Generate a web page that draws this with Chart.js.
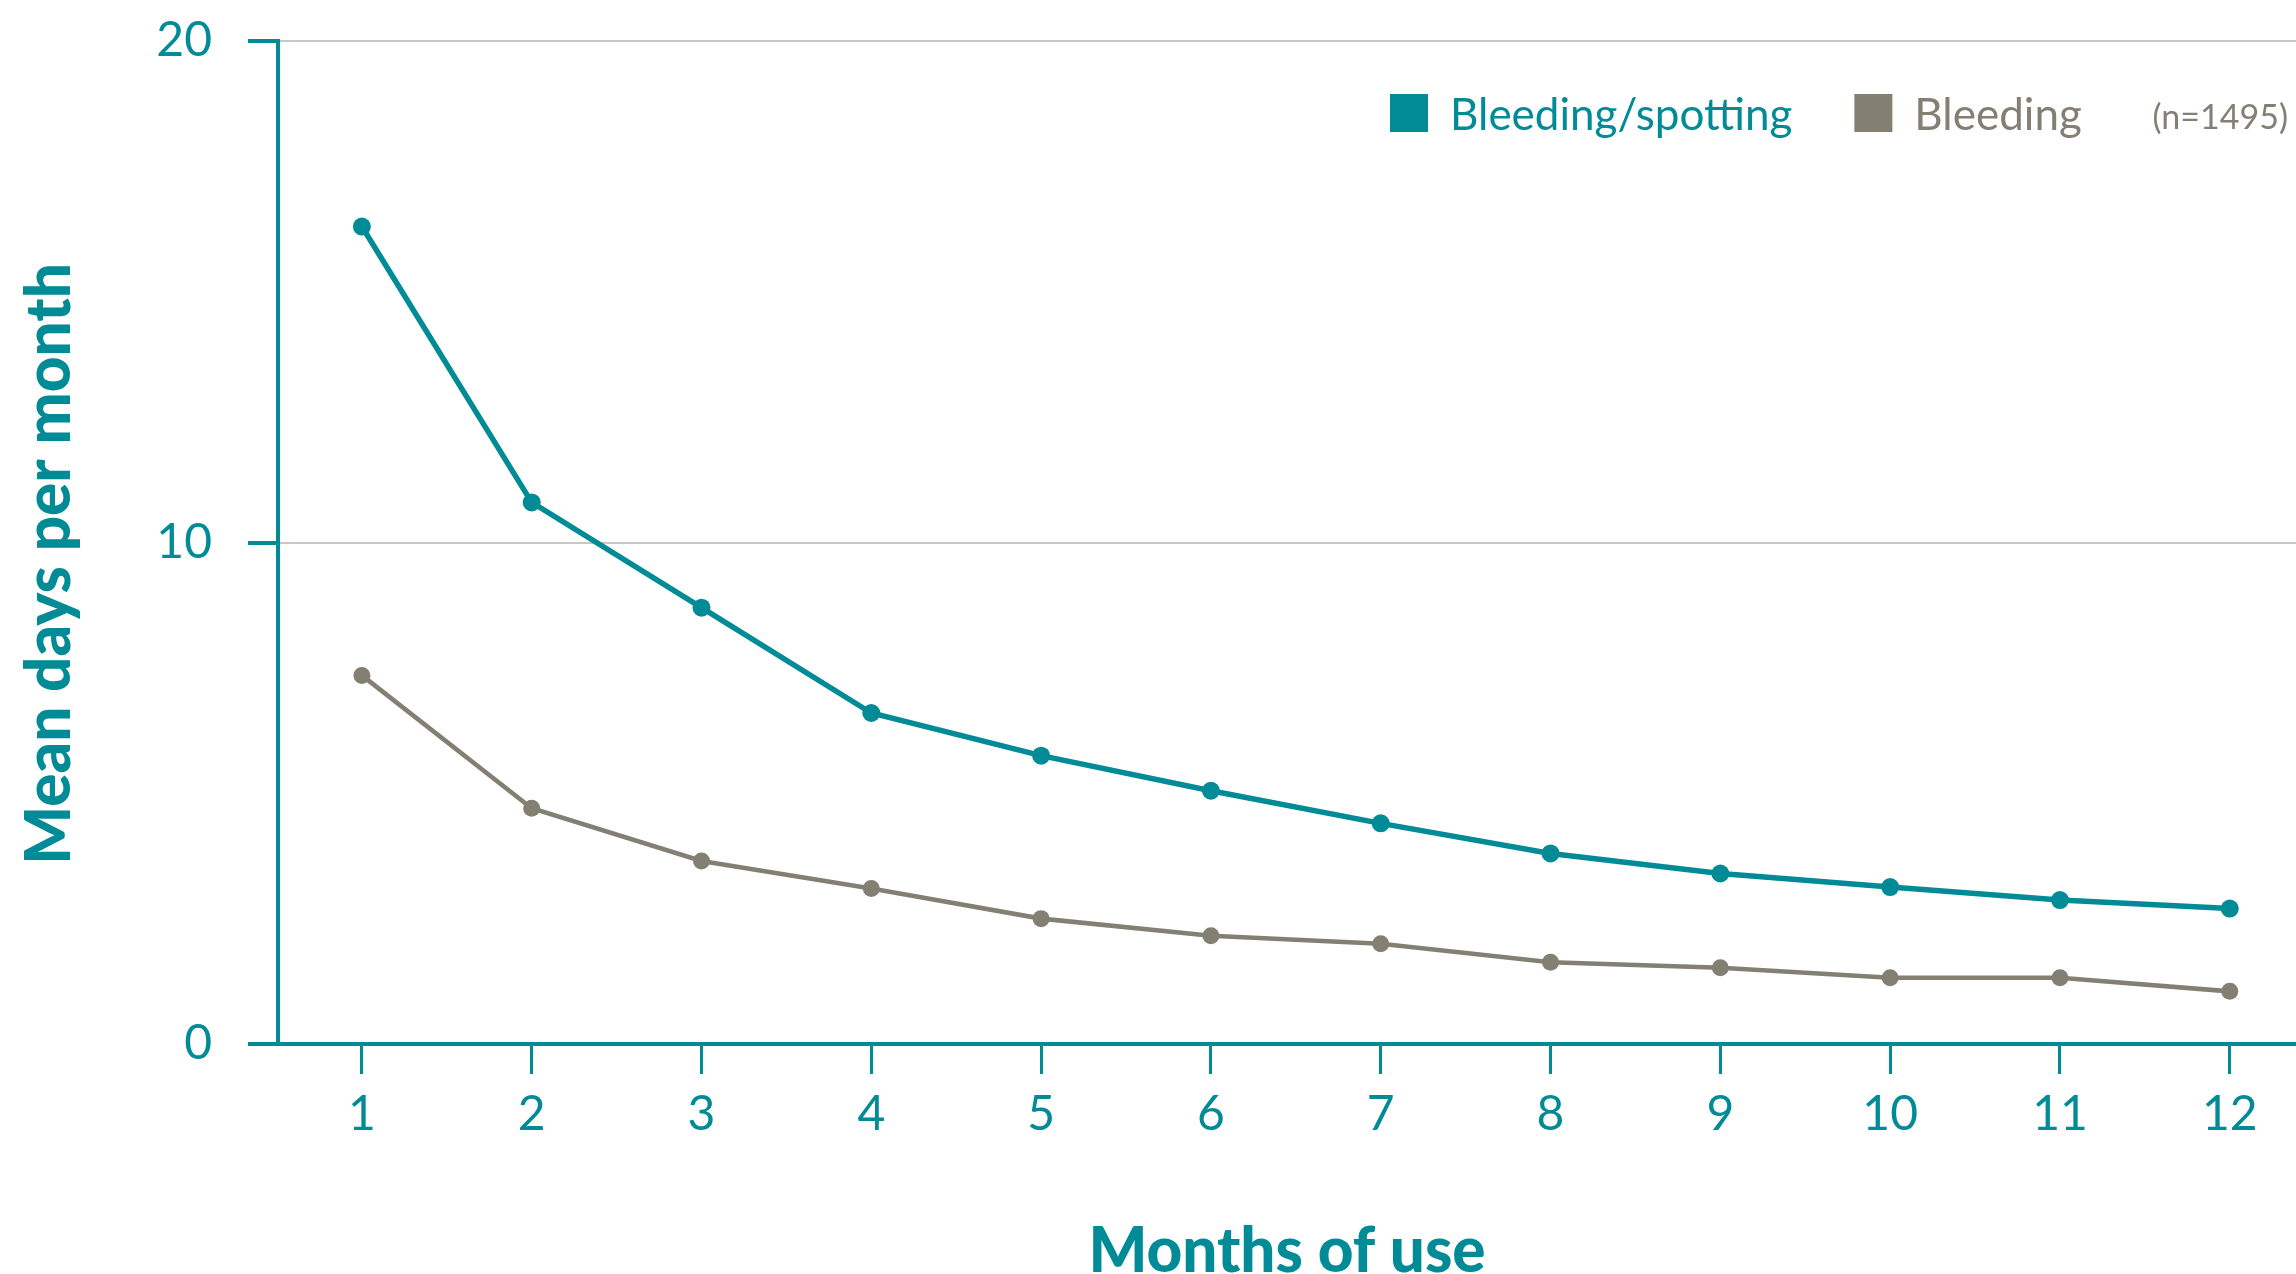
<!DOCTYPE html>
<html>
<head>
<meta charset="utf-8">
<script src="https://cdn.jsdelivr.net/npm/chart.js@4"></script>
<style>
    html, body { margin: 0; padding: 0; background: #ffffff; overflow: hidden; }
    #bleedingGraph { display: block; }
</style>
</head>
<body>
<canvas id="bleedingGraph" width="2296" height="1274"></canvas>
<script>
"use strict"

/******************************************************************************/
// data
/******************************************************************************/
const months = [1, 2, 3, 4, 5, 6, 7, 8, 9, 10, 11, 12]
const bleedingSpotting = [16.3, 10.8, 8.7, 6.6, 5.75, 5.05, 4.4, 3.8, 3.4, 3.13, 2.87, 2.7]
const bleeding = [7.35, 4.7, 3.65, 3.1, 2.5, 2.16, 2.0, 1.63, 1.52, 1.32, 1.32, 1.05]
const seriesNames = ['Bleeding/spotting', 'Bleeding']
const sampleNote = '(n=1495)'
const yTicks = [0, 10, 20]
const yTitle = 'Mean days per month'
const xTitle = 'Months of use'

const TEAL = '#008b96'
const GREY = '#837f72'
const GRID = '#c9c9c6'
const FONT = 'Lato, "Open Sans", sans-serif'

let toPoints = function(values) {
    return months.map((m, i) => ({ x: m, y: values[i] }))
}

// legend + rotated y title, placed like the original
let decorPlugin = {
    id: 'decor',
    afterDraw: function(chart) {
        let ctx = chart.ctx
        let x = 1390
        let y = 113
        ctx.save()
        ctx.textBaseline = 'middle'
        ctx.textAlign = 'left'
        chart.data.datasets.forEach(ds => {
            ctx.fillStyle = ds.borderColor
            ctx.fillRect(x, y - 19, 38, 38)
            x += 38 + 22
            ctx.font = '44px ' + FONT
            ctx.fillText(ds.label, x, y + 3)
            x += ctx.measureText(ds.label).width + 62
        })
        ctx.fillStyle = GREY
        ctx.font = '34px ' + FONT
        ctx.textAlign = 'right'
        ctx.fillText(sampleNote, 2288, y + 5)

        ctx.translate(50, 564)
        ctx.rotate(-Math.PI / 2)
        ctx.textAlign = 'center'
        ctx.fillStyle = TEAL
        ctx.font = '900 62px ' + FONT
        ctx.fillText(yTitle, 0, 0)
        ctx.restore()
    }
}

let drawGraph = function() {
    let ctx = document.getElementById('bleedingGraph').getContext('2d')
    return new Chart(ctx, {
        type: 'line',
        data: {
            datasets: [{
                label: seriesNames[0],
                data: toPoints(bleedingSpotting),
                borderColor: TEAL,
                backgroundColor: TEAL,
                borderWidth: 5.5,
                pointRadius: 9,
                pointBorderWidth: 0,
                tension: 0
            }, {
                label: seriesNames[1],
                data: toPoints(bleeding),
                borderColor: GREY,
                backgroundColor: GREY,
                borderWidth: 4.6,
                pointRadius: 8.5,
                pointBorderWidth: 0,
                tension: 0
            }]
        },
        options: {
            responsive: false,
            animation: false,
            layout: {
                autoPadding: false,
                padding: { top: 41, right: 0, left: 0, bottom: 0 }
            },
            plugins: {
                legend: { display: false },
                tooltip: { enabled: false }
            },
            scales: {
                x: {
                    type: 'linear',
                    min: 0.506,
                    max: 12.39,
                    afterFit: scale => {
                        scale.height = 230
                        scale.paddingLeft = 0
                        scale.paddingRight = 0
                    },
                    border: { color: TEAL, width: 4 },
                    grid: {
                        drawOnChartArea: false,
                        drawTicks: true,
                        tickLength: 30,
                        tickColor: TEAL,
                        tickWidth: 3
                    },
                    ticks: {
                        stepSize: 1,
                        includeBounds: false,
                        color: TEAL,
                        padding: 12,
                        font: { family: FONT, size: 48 },
                        callback: v => months.includes(v) ? String(v) : ''
                    },
                    title: {
                        display: true,
                        text: xTitle,
                        color: TEAL,
                        font: { family: FONT, size: 62, weight: '900', lineHeight: 0.6 },
                        padding: { top: 0, bottom: 3 }
                    }
                },
                y: {
                    min: 0,
                    max: 20,
                    afterFit: scale => {
                        scale.width = 278
                        scale.paddingTop = 0
                        scale.paddingBottom = 0
                    },
                    afterBuildTicks: scale => {
                        scale.ticks = yTicks.map(v => ({ value: v }))
                    },
                    border: { color: TEAL, width: 4 },
                    grid: {
                        color: c => (c.tick && c.tick.value === 0) ? TEAL : GRID,
                        lineWidth: 2,
                        tickLength: 30,
                        tickColor: TEAL,
                        tickWidth: 4
                    },
                    ticks: {
                        color: TEAL,
                        padding: 36,
                        font: { family: FONT, size: 48 }
                    }
                }
            }
        },
        plugins: [decorPlugin]
    })
}

drawGraph()
</script>
</body>
</html>
